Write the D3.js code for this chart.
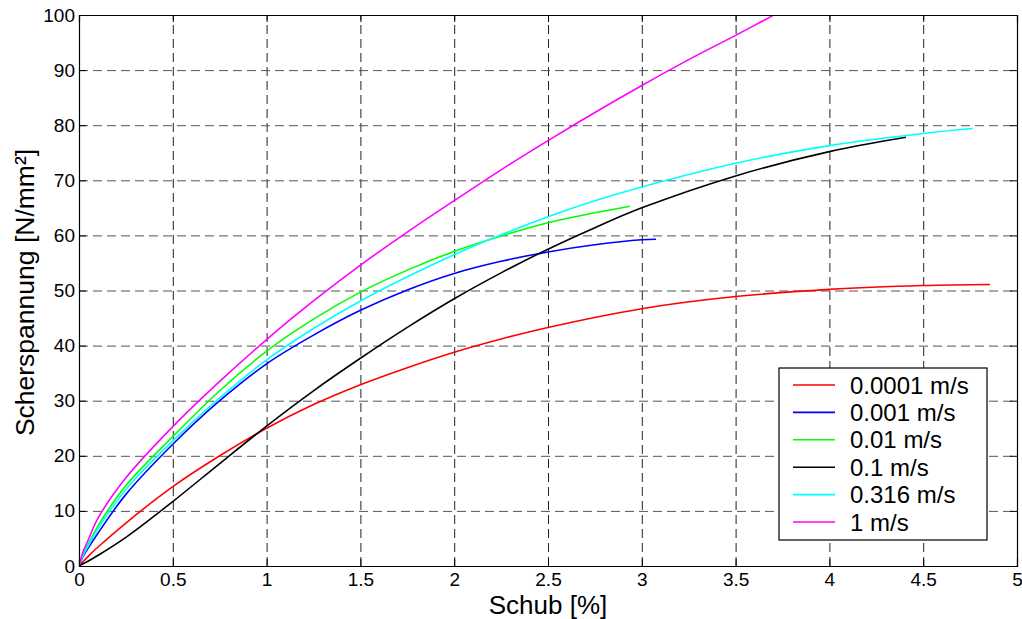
<!DOCTYPE html>
<html>
<head>
<meta charset="utf-8">
<script src="https://cdn.jsdelivr.net/npm/d3@7"></script>
<style>
  html, body { margin: 0; padding: 0; background: #fff; }
  svg { display: block; font-family: "Liberation Sans", Arial, sans-serif; }
</style>
</head>
<body>
<svg id="chart" width="1022" height="619"></svg>
<script>
// ---- data ----
const xTicks = [0, 0.5, 1, 1.5, 2, 2.5, 3, 3.5, 4, 4.5, 5];
const yTicks = [0, 10, 20, 30, 40, 50, 60, 70, 80, 90, 100];
const seriesNames = ["0.0001 m/s", "0.001 m/s", "0.01 m/s", "0.1 m/s", "0.316 m/s", "1 m/s"];
const seriesColors = ["#ff0000", "#0000ff", "#00ff00", "#000000", "#00ffff", "#ff00ff"];

const redX   = [0, 0.05, 0.1, 0.25, 0.5, 0.75, 1.0, 1.25, 1.5, 1.75, 2.0, 2.25, 2.5, 3.0, 3.5, 4.0, 4.5, 4.856];
const redY   = [0, 1.8, 3.4, 7.8, 14.4, 20.0, 25.0, 29.3, 32.9, 36.0, 38.8, 41.2, 43.3, 46.7, 48.9, 50.2, 50.9, 51.1];

const blueX  = [0, 0.02, 0.05, 0.1, 0.25, 0.5, 0.75, 1.0, 1.25, 1.5, 1.75, 2.0, 2.25, 2.5, 2.75, 3.0, 3.076];
const blueY  = [0, 1.6, 3.3, 5.9, 13.0, 22.1, 30.0, 36.7, 41.9, 46.4, 50.1, 53.1, 55.3, 57.0, 58.3, 59.2, 59.3];

const greenX = [0, 0.02, 0.05, 0.1, 0.25, 0.5, 0.75, 1.0, 1.25, 1.5, 1.75, 2.0, 2.25, 2.5, 2.75, 2.937];
const greenY = [0, 2.0, 4.0, 7.2, 14.6, 23.5, 31.8, 39.0, 44.8, 49.7, 53.7, 57.1, 59.9, 62.3, 64.1, 65.3];

const blackX = [0, 0.05, 0.1, 0.25, 0.5, 0.75, 1.0, 1.25, 1.5, 1.75, 2.0, 2.25, 2.5, 2.75, 3.0, 3.5, 4.0, 4.408];
const blackY = [0, 0.9, 1.9, 5.2, 11.7, 18.6, 25.4, 31.8, 37.7, 43.3, 48.5, 53.2, 57.5, 61.4, 65.0, 70.8, 75.2, 77.8];

const cyanX  = [0, 0.02, 0.05, 0.1, 0.25, 0.5, 0.75, 1.0, 1.25, 1.5, 1.75, 2.0, 2.25, 2.5, 2.75, 3.0, 3.5, 4.0, 4.5, 4.764];
const cyanY  = [0, 1.8, 3.7, 6.7, 13.9, 22.7, 30.5, 37.4, 43.1, 48.1, 52.5, 56.5, 60.1, 63.4, 66.3, 68.8, 73.1, 76.3, 78.5, 79.4];

const magentaX = [0, 0.02, 0.05, 0.1, 0.25, 0.5, 0.75, 1.0, 1.25, 1.5, 1.75, 2.0, 2.25, 2.5, 2.75, 3.0, 3.25, 3.5, 3.72];
const magentaY = [0, 2.4, 4.8, 8.6, 16.0, 25.3, 33.5, 41.1, 48.1, 54.6, 60.6, 66.3, 71.9, 77.2, 82.3, 87.2, 91.9, 96.3, 100.3];

const seriesX = [redX, blueX, greenX, blackX, cyanX, magentaX];
const seriesY = [redY, blueY, greenY, blackY, cyanY, magentaY];

// ---- layout ----
const W = 1022, H = 619;
const margin = { left: 79, top: 15, right: 5, bottom: 53 };
const pw = W - margin.left - margin.right;
const ph = H - margin.top - margin.bottom;

const svg = d3.select("#chart");
const g = svg.append("g").attr("transform", `translate(${margin.left},${margin.top})`);

const x = d3.scaleLinear().domain([0, 5]).range([0, pw]);
const y = d3.scaleLinear().domain([0, 100]).range([ph, 0]);

svg.append("defs").append("clipPath").attr("id", "clip")
  .append("rect").attr("x", 0).attr("y", 0).attr("width", pw).attr("height", ph);

// grid
const gridX = g.append("g").attr("class", "grid")
  .attr("transform", `translate(0,${ph})`)
  .call(d3.axisBottom(x).tickValues(xTicks.slice(1, -1)).tickSize(-ph).tickFormat(""));
const gridY = g.append("g").attr("class", "grid")
  .call(d3.axisLeft(y).tickValues(yTicks.slice(1, -1)).tickSize(-pw).tickFormat(""));
g.selectAll(".grid .domain").remove();
gridX.selectAll("line").attr("stroke", "#222").attr("stroke-width", 1).attr("stroke-dasharray", "9,5");
gridY.selectAll("line").attr("stroke", "#555").attr("stroke-width", 1).attr("stroke-dasharray", "9,5");

// curves
const line = d3.line().x(d => x(d[0])).y(d => y(d[1])).curve(d3.curveCatmullRom.alpha(0.5));
const curves = g.append("g").attr("clip-path", "url(#clip)");
seriesX.forEach((xs, i) => {
  const pts = xs.map((v, j) => [v, seriesY[i][j]]);
  curves.append("path").datum(pts)
    .attr("d", line)
    .attr("fill", "none")
    .attr("stroke", seriesColors[i])
    .attr("stroke-width", 1.6)
    .attr("stroke-linejoin", "round");
});

// axes (ticks inward)
const fmt = d => String(d);
const axB = g.append("g").attr("transform", `translate(0,${ph})`)
  .call(d3.axisBottom(x).tickValues(xTicks).tickSize(-7).tickPadding(7).tickFormat(fmt));
const axL = g.append("g")
  .call(d3.axisLeft(y).tickValues(yTicks).tickSize(-7).tickPadding(4).tickFormat(fmt));
const axT = g.append("g")
  .call(d3.axisTop(x).tickValues(xTicks).tickSize(-7).tickFormat(""));
const axR = g.append("g").attr("transform", `translate(${pw},0)`)
  .call(d3.axisRight(y).tickValues(yTicks).tickSize(-7).tickFormat(""));
[axB, axL, axT, axR].forEach(a => {
  a.selectAll(".domain").attr("stroke", "#000").attr("stroke-width", 1.2);
  a.selectAll(".tick line").attr("stroke", "#000");
  a.selectAll("text").attr("fill", "#000").attr("font-size", 19)
    .attr("font-family", "'Liberation Sans', Arial, sans-serif");
});

// axis titles
svg.append("text")
  .attr("x", margin.left + pw / 2).attr("y", 614)
  .attr("text-anchor", "middle")
  .attr("font-size", 26).attr("fill", "#000")
  .text("Schub [%]");
svg.append("text")
  .attr("transform", `translate(34,${margin.top + ph / 2 + 2}) rotate(-90)`)
  .attr("text-anchor", "middle")
  .attr("font-size", 26.5).attr("fill", "#000")
  .text("Scherspannung [N/mm²]");

// legend
const lg = svg.append("g").attr("transform", "translate(779,368)");
lg.append("rect").attr("x", 0).attr("y", 0).attr("width", 208).attr("height", 172)
  .attr("fill", "#fff").attr("stroke", "#000").attr("stroke-width", 1.2);
const rowY = d3.scaleLinear().domain([0, 5]).range([17, 154]);
seriesNames.forEach((name, i) => {
  const yy = rowY(i);
  lg.append("line").attr("x1", 14).attr("x2", 56).attr("y1", yy).attr("y2", yy)
    .attr("stroke", seriesColors[i]).attr("stroke-width", 1.6);
  lg.append("text").attr("x", 71).attr("y", yy).attr("dy", "0.36em")
    .attr("font-size", 24).attr("fill", "#000").text(name);
});
</script>
</body>
</html>
